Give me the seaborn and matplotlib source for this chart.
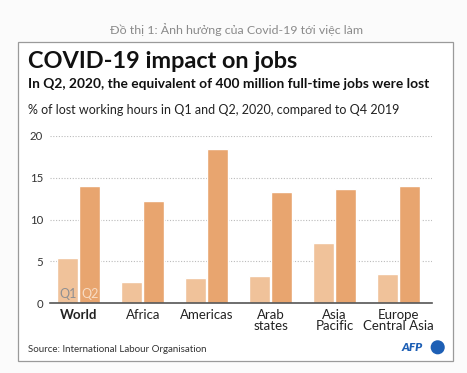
import matplotlib
matplotlib.use("Agg")
import matplotlib.pyplot as plt
import matplotlib.patches as mpatches
import pandas as pd
import seaborn as sns

regions = ["World", "Africa", "Americas", "Arab\nstates", "Asia\nPacific", "Europe\nCentral Asia"]
q1 = [5.4, 2.5, 3.0, 3.2, 7.2, 3.5]
q2 = [14.0, 12.2, 18.4, 13.3, 13.6, 14.0]
quarters = ["Q1", "Q2"]
yticks = [0, 5, 10, 15, 20]

df = pd.DataFrame({
    "region": regions * 2,
    "quarter": [quarters[0]] * len(q1) + [quarters[1]] * len(q2),
    "value": q1 + q2,
})

sns.set_style("white")
plt.rcParams["font.family"] = ["Lato", "DejaVu Sans"]

W, H = 467, 373
fig = plt.figure(figsize=(W / 100, H / 100), dpi=100)
fig.patch.set_facecolor("#fbfbfb")


def px(x, y):
    # pixel position -> figure fraction
    return x / W, 1 - y / H


# white card with grey border (behind the axes)
fig.patches.append(mpatches.Rectangle(px(18.3, 360.7), 435 / W, 318.4 / H,
                                      transform=fig.transFigure, facecolor="white",
                                      edgecolor="#9a9a9a", linewidth=0.9, zorder=-1))

ax = fig.add_axes([50 / W, (H - 303.3) / H, 382 / W, 167.6 / H])
ax.set_facecolor("none")
sns.barplot(data=df, x="region", y="value", hue="quarter", palette=["#f0c29a", "#e8a56f"],
            width=0.69, gap=0.04, saturation=1, legend=False, ax=ax, zorder=3)

ax.set_xlim(-0.45, 5.52)
ax.set_ylim(0, 20)
ax.set_yticks(yticks)
ax.grid(axis="y", color="#bbbbbb", linestyle=(0, (1, 1.5)), linewidth=0.8, zorder=0)
for s in ["top", "right", "left"]:
    ax.spines[s].set_visible(False)
ax.spines["bottom"].set_color("#555555")
ax.spines["bottom"].set_linewidth(1.2)
ax.spines["bottom"].set_zorder(4)
ax.tick_params(axis="both", length=0)
ax.tick_params(axis="y", labelsize=8.2, labelcolor="#333333", pad=5)
ax.tick_params(axis="x", labelsize=9.5, labelcolor="#222222", pad=4)
ax.set_xlabel("")
ax.set_ylabel("")
for lab in ax.get_xticklabels():
    lab.set_linespacing(0.95)
ax.get_xticklabels()[0].set_fontweight("bold")

# Q1 / Q2 labels inside the World bars
n = len(regions)
for patch, name, col in [(ax.patches[0], quarters[0], "#8f8f92"), (ax.patches[n], quarters[1], "#f8dcc4")]:
    ax.text(patch.get_x() + patch.get_width() / 2, 0.45, name, ha="center", va="bottom",
            fontsize=9, color=col, zorder=5)

fig.text(*px(236, 30), "Đồ thị 1: Ảnh hưởng của Covid-19 tới việc làm", ha="center", va="center",
         fontsize=8.9, color="#8a8a8a")
fig.text(*px(28, 68), "COVID-19 impact on jobs", ha="left", va="baseline",
         fontsize=16.9, fontweight="bold", color="#111111")
fig.text(*px(28, 88), "In Q2, 2020, the equivalent of 400 million full-time jobs were lost",
         ha="left", va="baseline", fontsize=9.95, fontweight="bold", color="#111111")
fig.text(*px(28, 114), "% of lost working hours in Q1 and Q2, 2020, compared to Q4 2019",
         ha="left", va="baseline", fontsize=9, color="#222222")
fig.text(*px(28, 349), "Source: International Labour Organisation", ha="left", va="center",
         fontsize=7, color="#333333")

# AFP logo
fig.text(*px(423, 347.5), "AFP", ha="right", va="center", fontsize=8.5,
         fontweight="heavy", fontstyle="italic", color="#1d5fb5")
fig.patches.append(mpatches.Ellipse(px(437.7, 347.3), 12.7 / W, 12.7 / H,
                                    transform=fig.transFigure, color="#1d5fb5"))

fig.savefig("out.png", dpi=100, facecolor=fig.get_facecolor())
